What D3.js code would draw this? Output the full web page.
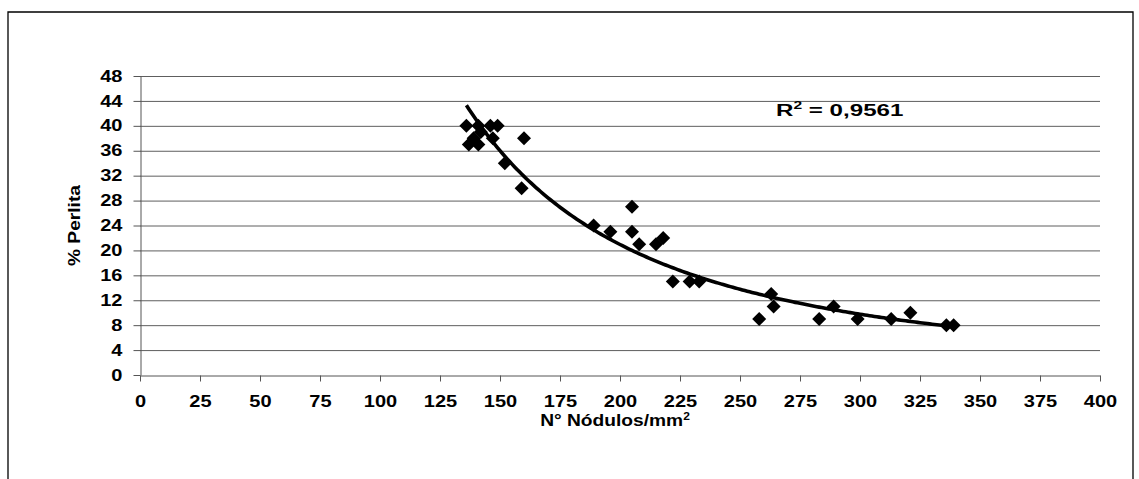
<!DOCTYPE html>
<html lang="es">
<head>
<meta charset="UTF-8">
<title>% Perlita vs N° Nódulos</title>
<script src="https://cdnjs.cloudflare.com/ajax/libs/d3/7.8.5/d3.min.js"></script>
<style>
  body { margin: 0; background: #fff; }
  text { font-family: "Liberation Sans", Arial, sans-serif; font-weight: bold; fill: #000; }
</style>
</head>
<body>
<svg width="1139" height="479"></svg>
<script>
    // datos
    const nodulos = [136, 137, 141, 142, 146, 149, 141, 147, 139, 152, 159, 160,
        189, 196, 205, 205, 208, 215, 218, 222, 229, 233,
        258, 263, 264, 283, 289, 299, 313, 321, 336, 339];
    const perlita = [40, 37, 40, 39, 40, 40, 37, 38, 38, 34, 30, 38,
        24, 23, 27, 23, 21, 21, 22, 15, 15, 15,
        9, 13, 11, 9, 11, 9, 9, 10, 8, 8];
    const xTickValues = [0, 25, 50, 75, 100, 125, 150, 175, 200, 225, 250, 275, 300, 325, 350, 375, 400];
    const yTickValues = [0, 4, 8, 12, 16, 20, 24, 28, 32, 36, 40, 44, 48];
    const r2Label = '0,9561';

    const STRETCH = 1.25; // the original text is wider than Arial

    const svg = d3.select('svg');

    // outer frame (bottom edge is off the picture)
    svg.append('path')
        .attr('d', 'M 8,490 L 8,12 L 1133,12 L 1133,490')
        .attr('fill', 'none')
        .attr('stroke', '#000')
        .attr('stroke-width', 1.3);

    const plotL = 140, plotR = 1100, plotT = 76, plotB = 375;

    const x = d3.scaleLinear().domain([0, 400]).range([plotL, plotR]);
    const y = d3.scaleLinear().domain([0, 48]).range([plotB, plotT]);

    // gridlines
    svg.append('g')
        .selectAll('line')
        .data(yTickValues.filter(d => d > 0))
        .join('line')
        .attr('x1', plotL).attr('x2', plotR)
        .attr('y1', d => y(d) + 0.5).attr('y2', d => y(d) + 0.5)
        .attr('stroke', '#5e5e5e')
        .attr('stroke-width', 1);

    // axes
    const xAxis = svg.append('g')
        .attr('transform', `translate(0,${plotB + 0.5})`)
        .call(d3.axisBottom(x).tickValues(xTickValues).tickSize(6).tickSizeOuter(0).tickPadding(14));
    const yAxis = svg.append('g')
        .attr('transform', `translate(${plotL + 0.5},0)`)
        .call(d3.axisLeft(y).tickValues(yTickValues).tickSize(7).tickSizeOuter(0).tickPadding(11));

    [xAxis, yAxis].forEach(a => {
        a.select('.domain').attr('stroke', '#555');
        a.selectAll('.tick line').attr('stroke', '#555');
        a.selectAll('.tick text')
            .attr('font-size', '16px')
            .attr('font-family', '"Liberation Sans", Arial, sans-serif')
            .attr('font-weight', 'bold')
            .attr('fill', '#000');
    });
    xAxis.selectAll('.tick text').attr('transform', `scale(${STRETCH},1)`);
    yAxis.selectAll('.tick text')
        .attr('x', -18 / STRETCH)
        .attr('transform', `scale(${STRETCH},1)`);

    // power trendline fitted on log-log (like Excel)
    const lx = nodulos.map(Math.log), ly = perlita.map(Math.log);
    const mx = d3.mean(lx), my = d3.mean(ly);
    const b = d3.sum(lx, (v, i) => (v - mx) * (ly[i] - my)) / d3.sum(lx, v => (v - mx) * (v - mx));
    const a = Math.exp(my - b * mx);
    const [minX, maxX] = d3.extent(nodulos);
    const trend = d3.range(minX, maxX + 0.5, 1).map(v => [v, a * Math.pow(v, b)]);

    svg.append('path')
        .datum(trend)
        .attr('d', d3.line().x(d => x(d[0])).y(d => y(d[1])))
        .attr('fill', 'none')
        .attr('stroke', '#000')
        .attr('stroke-width', 3.6);

    // diamond markers
    const diamond = (cx, cy, r) => `M ${cx},${cy - r} L ${cx + r},${cy} L ${cx},${cy + r} L ${cx - r},${cy} Z`;
    svg.append('g')
        .selectAll('path')
        .data(nodulos.map((v, i) => [v, perlita[i]]))
        .join('path')
        .attr('d', d => diamond(x(d[0]), y(d[1]), 7))
        .attr('fill', '#000');

    // R² label
    const r2 = svg.append('text')
        .attr('transform', `translate(776,116) scale(1.42,1)`)
        .attr('font-size', '17px');
    r2.append('tspan').text('R');
    r2.append('tspan').attr('font-size', '11px').attr('dy', -7).text('2');
    r2.append('tspan').attr('dy', 7).text(' = ' + r2Label);

    // axis titles
    const xt = svg.append('text')
        .attr('transform', `translate(615,426) scale(1.2,1)`)
        .attr('text-anchor', 'middle')
        .attr('font-size', '16px');
    xt.append('tspan').text('N° Nódulos/mm');
    xt.append('tspan').attr('font-size', '10px').attr('dy', -6).text('2');

    svg.append('text')
        .attr('transform', `translate(80,${(plotT + plotB) / 2}) rotate(-90) scale(1.2,1)`)
        .attr('text-anchor', 'middle')
        .attr('font-size', '16px')
        .text('% Perlita');
</script>
</body>
</html>
